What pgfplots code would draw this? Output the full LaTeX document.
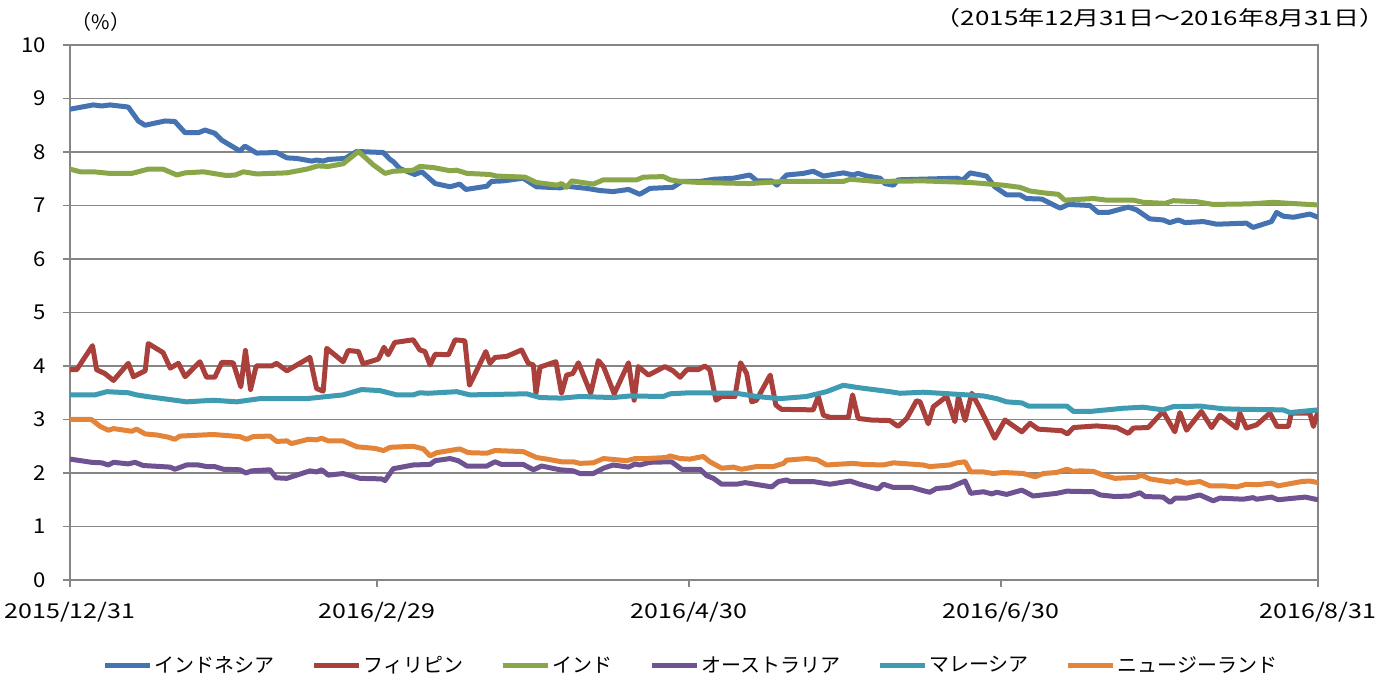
\documentclass[border=0pt]{standalone}
\usepackage{fontspec}
\setmainfont{Noto Sans CJK JP}
\usepackage{pgfplots}
\pgfplotsset{compat=1.18}
\definecolor{cIdn}{RGB}{69,114,176}
\definecolor{cPhl}{RGB}{170,64,60}
\definecolor{cInd}{RGB}{137,166,72}
\definecolor{cAus}{RGB}{110,82,145}
\definecolor{cMys}{RGB}{62,155,177}
\definecolor{cNzl}{RGB}{228,132,56}
\definecolor{cGrid}{RGB}{134,134,134}
\begin{document}
\begin{tikzpicture}[font=\fontsize{20}{24}\selectfont]
\begin{axis}[
  scale only axis, width=1248pt, height=535pt,
  xmin=0, xmax=244, ymin=0, ymax=10,
  ytick={0,1,2,3,4,5,6,7,8,9,10},
  xtick={0,60,121,182,244},
  xticklabels={2015/12/31,2016/2/29,2016/4/30,2016/6/30,2016/8/31},
  /pgf/number format/assume math mode=true,
  ymajorgrids, grid style={cGrid, line width=1.3pt},
  axis line style={cGrid, line width=1.5pt},
  tick style={cGrid, line width=1.5pt},
  tick align=outside, tick pos=left, major tick length=7pt,
  yticklabel style={font=\fontsize{20.5}{24}\selectfont, xshift=-13pt, xscale=1.08},
  xticklabel style={font=\fontsize{20.5}{24}\selectfont, yshift=-12pt, xscale=1.22},
  every axis plot/.append style={line width=5pt, line join=round, no markers},
  legend style={at={(0.4976,-0.159)}, anchor=center, draw=none, fill=none,
    legend columns=6, font=\fontsize{20}{24}\selectfont,
    /tikz/every even column/.append style={column sep=35pt}},
  legend cell align=left,
  legend image code/.code={\draw[#1] (0pt,0pt) -- (45pt,0pt);},
]
\addplot[cIdn] coordinates {(0,8.80)(4.56,8.88)(6.2,8.86)(7.82,8.88)(11.4,8.84)(13.35,8.58)(14.66,8.50)(18.57,8.58)(20.5,8.57)(22.5,8.36)(25.1,8.36)(26.4,8.41)(28.3,8.35)(29.7,8.22)(33.2,8.02)(34.2,8.11)(36.5,7.98)(40.4,7.99)(42.4,7.89)(44.3,7.88)(47.3,7.83)(48.2,7.85)(49.5,7.83)(50.5,7.86)(53.8,7.88)(56.05,8.01)(61.25,7.99)(62.6,7.86)(63.2,7.82)(64.5,7.69)(67.4,7.58)(68.8,7.63)(71.4,7.41)(74.3,7.35)(76.2,7.40)(77.4,7.30)(81.5,7.36)(82.4,7.45)(84.7,7.46)(88.6,7.51)(91.2,7.35)(95.8,7.33)(97.1,7.36)(101.0,7.32)(103.6,7.28)(106.2,7.26)(109.2,7.30)(111.4,7.21)(113.4,7.32)(117.9,7.34)(119.6,7.45)(123.2,7.45)(125.8,7.49)(129.7,7.51)(132.9,7.57)(134.3,7.46)(137.2,7.46)(138.2,7.38)(140.1,7.57)(143.4,7.60)(145.3,7.64)(147.3,7.55)(151.2,7.61)(153.1,7.57)(154.1,7.60)(155.8,7.55)(158.4,7.51)(159.3,7.41)(161.0,7.38)(161.9,7.48)(173.4,7.51)(174.6,7.48)(176.0,7.61)(179.2,7.55)(180.8,7.35)(183.1,7.20)(185.7,7.20)(187.0,7.13)(190.0,7.12)(193.6,6.95)(195.2,7.02)(199.4,7.00)(201.0,6.87)(203.0,6.87)(206.9,6.97)(208.5,6.92)(211.1,6.75)(213.7,6.73)(215.0,6.68)(216.7,6.73)(218.0,6.68)(221.6,6.70)(224.2,6.65)(230.0,6.67)(231.3,6.59)(234.9,6.70)(235.9,6.87)(237.2,6.80)(239.2,6.78)(242.4,6.84)(244,6.78)};
\addlegendentry{インドネシア}
\addplot[cPhl] coordinates {(0,3.93)(1.3,3.93)(4.4,4.38)(5.2,3.93)(6.8,3.86)(8.5,3.73)(11.4,4.05)(12.4,3.80)(14.7,3.91)(15.3,4.42)(18.2,4.25)(19.6,3.96)(21.2,4.05)(22.5,3.80)(25.4,4.08)(26.7,3.79)(28.3,3.79)(29.7,4.07)(31.9,4.06)(33.4,3.61)(34.3,4.29)(35.3,3.56)(36.4,4.00)(39.4,4.00)(40.4,4.05)(42.4,3.91)(46.9,4.16)(48.2,3.58)(49.5,3.53)(50.2,4.33)(53.4,4.08)(54.4,4.29)(56.4,4.27)(57.3,4.04)(60.3,4.13)(61.4,4.35)(62.2,4.21)(63.5,4.44)(67.1,4.49)(68.4,4.30)(69.4,4.27)(70.4,4.02)(71.4,4.22)(74.0,4.21)(75.3,4.49)(77.2,4.47)(78.1,3.64)(81.3,4.27)(82.1,4.05)(83.1,4.16)(85.4,4.18)(88.3,4.30)(89.6,4.05)(90.6,4.02)(91.1,3.49)(91.9,3.98)(95.0,4.08)(96.1,3.49)(97.1,3.83)(98.3,3.86)(99.4,4.06)(101.8,3.49)(103.3,4.10)(104.3,3.99)(106.4,3.48)(109.2,4.06)(110.3,3.36)(111.1,3.99)(113.1,3.83)(116.3,3.99)(117.9,3.91)(119.3,3.79)(120.6,3.93)(122.8,3.93)(124.1,4.00)(125.1,3.93)(126.3,3.36)(127.4,3.43)(130.0,3.43)(131.1,4.06)(132.3,3.86)(133.3,3.33)(134.2,3.36)(136.9,3.83)(138.0,3.27)(139.1,3.19)(145.3,3.18)(146.3,3.43)(147.3,3.08)(148.6,3.04)(152.2,3.04)(153.0,3.46)(154.1,3.02)(156.7,2.99)(160.3,2.98)(161.9,2.87)(163.6,3.02)(165.5,3.35)(166.2,3.33)(167.8,2.92)(168.8,3.24)(171.4,3.43)(173.0,2.96)(173.7,3.43)(175.0,2.98)(176.3,3.49)(177.9,3.21)(180.8,2.65)(182.8,2.99)(186.1,2.77)(187.7,2.93)(189.3,2.82)(193.9,2.79)(195.0,2.73)(196.2,2.85)(200.7,2.88)(204.6,2.85)(206.9,2.74)(207.9,2.84)(210.8,2.85)(213.7,3.15)(216.0,2.77)(217.0,3.13)(218.3,2.80)(221.2,3.15)(223.2,2.85)(224.8,3.08)(228.1,2.84)(228.7,3.12)(230.0,2.84)(232.0,2.90)(234.6,3.12)(236.0,2.87)(238.2,2.87)(238.8,3.12)(242.4,3.12)(243.1,2.87)(244,3.15)};
\addlegendentry{フィリピン}
\addplot[cInd] coordinates {(0,7.68)(2.0,7.63)(4.6,7.63)(7.8,7.60)(12.1,7.60)(15.3,7.68)(18.2,7.68)(20.9,7.57)(22.5,7.61)(26.1,7.63)(28.0,7.60)(30.6,7.56)(32.3,7.57)(33.9,7.63)(36.5,7.59)(42.4,7.61)(46.3,7.68)(48.5,7.74)(50.5,7.73)(53.4,7.78)(56.4,8.01)(59.3,7.76)(61.6,7.60)(63.2,7.64)(67.1,7.66)(68.4,7.73)(71.0,7.71)(74.3,7.65)(75.6,7.66)(77.6,7.60)(82.1,7.58)(83.4,7.55)(88.95,7.53)(91.2,7.43)(95.2,7.38)(96.1,7.41)(97.1,7.34)(98.1,7.46)(102.3,7.40)(104.3,7.48)(110.8,7.48)(112.1,7.53)(116.0,7.54)(117.3,7.48)(119.3,7.45)(123.2,7.43)(132.9,7.41)(139.5,7.45)(151.2,7.45)(152.5,7.49)(157.7,7.45)(166.8,7.46)(176.0,7.43)(179.9,7.40)(182.5,7.38)(185.7,7.34)(187.7,7.27)(190.9,7.23)(193.2,7.21)(194.5,7.10)(200.1,7.13)(202.7,7.10)(207.9,7.10)(209.8,7.06)(214.1,7.04)(215.7,7.09)(220.3,7.07)(223.5,7.02)(230.7,7.03)(235.3,7.06)(238.5,7.04)(244,7.01)};
\addlegendentry{インド}
\addplot[cAus] coordinates {(0,2.26)(4.2,2.20)(6.2,2.19)(7.5,2.15)(8.5,2.20)(11.4,2.17)(12.7,2.20)(14.3,2.14)(19.6,2.11)(20.5,2.07)(22.8,2.15)(25.1,2.15)(26.7,2.12)(28.3,2.12)(30.0,2.07)(33.2,2.06)(34.4,2.00)(35.5,2.04)(39.1,2.06)(40.3,1.91)(42.4,1.90)(46.9,2.04)(48.2,2.02)(49.2,2.06)(50.5,1.96)(53.4,1.99)(56.7,1.90)(60.9,1.89)(61.6,1.86)(63.2,2.08)(67.1,2.15)(70.4,2.16)(71.4,2.23)(74.3,2.27)(75.9,2.23)(77.6,2.13)(81.5,2.13)(83.1,2.21)(84.4,2.16)(88.6,2.16)(90.6,2.06)(92.2,2.13)(95.8,2.06)(98.4,2.04)(99.7,1.99)(102.3,1.99)(104.3,2.09)(106.2,2.15)(109.2,2.11)(110.5,2.17)(111.4,2.15)(113.4,2.20)(117.6,2.21)(119.6,2.07)(123.2,2.07)(124.5,1.95)(125.8,1.90)(127.4,1.79)(130.3,1.79)(132.0,1.82)(137.2,1.74)(138.5,1.84)(140.1,1.87)(140.8,1.84)(145.3,1.84)(148.6,1.79)(152.5,1.85)(154.4,1.79)(158.0,1.70)(159.0,1.79)(161.0,1.73)(164.6,1.73)(166.8,1.67)(168.1,1.64)(169.4,1.71)(172.0,1.73)(175.0,1.85)(176.1,1.62)(178.6,1.65)(180.2,1.61)(181.2,1.64)(183.1,1.60)(186.1,1.68)(188.3,1.57)(192.9,1.62)(194.9,1.66)(200.1,1.65)(201.4,1.59)(204.3,1.56)(207.2,1.57)(209.2,1.63)(210.2,1.56)(213.7,1.55)(215.1,1.45)(216.1,1.53)(218.3,1.53)(220.9,1.59)(223.5,1.48)(224.8,1.53)(229.4,1.51)(231.3,1.54)(232.0,1.51)(234.9,1.55)(236.2,1.50)(241.5,1.55)(244,1.50)};
\addlegendentry{オーストラリア}
\addplot[cMys] coordinates {(0,3.46)(4.9,3.46)(7.2,3.52)(11.4,3.50)(13.0,3.46)(15.0,3.43)(18.2,3.39)(22.8,3.33)(28.0,3.36)(32.6,3.33)(37.1,3.39)(46.3,3.39)(53.4,3.46)(57.0,3.56)(60.6,3.54)(63.9,3.46)(67.1,3.46)(68.4,3.50)(70.0,3.49)(75.6,3.52)(78.2,3.46)(89.3,3.48)(91.9,3.41)(96.1,3.40)(99.7,3.43)(106.2,3.41)(109.5,3.44)(116.0,3.43)(117.3,3.48)(121.2,3.50)(130.3,3.49)(134.2,3.43)(138.8,3.39)(144.0,3.43)(147.9,3.52)(151.2,3.64)(153.8,3.60)(160.3,3.52)(162.3,3.49)(166.8,3.51)(172.0,3.48)(178.6,3.44)(181.2,3.39)(183.1,3.33)(186.1,3.31)(187.4,3.25)(194.9,3.25)(196.2,3.15)(199.4,3.15)(205.9,3.21)(209.8,3.23)(213.7,3.18)(215.7,3.24)(220.9,3.25)(225.5,3.20)(229.4,3.19)(237.2,3.18)(238.5,3.13)(244,3.18)};
\addlegendentry{マレーシア}
\addplot[cNzl] coordinates {(0,3.00)(4.2,3.00)(5.9,2.87)(7.5,2.80)(8.5,2.83)(12.1,2.78)(13.0,2.82)(14.7,2.73)(17.0,2.71)(19.2,2.67)(20.5,2.63)(21.5,2.69)(28.0,2.72)(33.2,2.68)(34.5,2.63)(35.8,2.68)(39.1,2.69)(40.4,2.59)(42.4,2.60)(43.3,2.55)(46.6,2.63)(48.2,2.62)(49.2,2.65)(50.5,2.60)(53.4,2.60)(56.1,2.49)(59.6,2.46)(61.3,2.42)(62.6,2.48)(67.1,2.50)(69.1,2.45)(70.4,2.32)(71.7,2.38)(76.2,2.45)(77.9,2.38)(81.5,2.37)(83.1,2.42)(88.6,2.40)(91.2,2.29)(93.2,2.26)(96.1,2.21)(98.4,2.21)(99.7,2.18)(102.3,2.19)(104.3,2.27)(108.8,2.23)(110.5,2.27)(112.7,2.27)(116.7,2.29)(117.3,2.32)(119.3,2.27)(121.2,2.26)(123.8,2.31)(125.1,2.21)(127.4,2.09)(129.7,2.11)(131.3,2.07)(134.2,2.12)(137.5,2.12)(139.5,2.18)(140.1,2.24)(144.0,2.27)(146.0,2.25)(147.9,2.15)(153.1,2.18)(155.1,2.16)(159.0,2.15)(161.0,2.19)(166.8,2.15)(168.1,2.12)(172.0,2.15)(173.4,2.19)(175.0,2.21)(176.1,2.02)(178.6,2.02)(180.5,1.99)(182.5,2.01)(186.4,1.99)(188.7,1.93)(190.3,1.99)(192.9,2.01)(194.9,2.07)(196.2,2.03)(197.5,2.04)(200.1,2.03)(202.0,1.96)(204.3,1.90)(208.5,1.92)(209.5,1.96)(211.1,1.89)(215.1,1.83)(216.4,1.86)(218.3,1.81)(220.9,1.84)(222.9,1.76)(225.5,1.76)(228.1,1.74)(230.0,1.79)(232.0,1.78)(234.9,1.81)(236.2,1.76)(240.8,1.84)(242.4,1.85)(244,1.82)};
\addlegendentry{ニュージーランド}
\end{axis}
\node[anchor=center] at (31pt,558pt) {（\%）};
\node[anchor=east, xscale=1.3] at (1320pt,562pt) {（2015年12月31日～2016年8月31日）};
\pgfresetboundingbox
\path (-70pt,-103pt) rectangle (1323pt,580pt);
\end{tikzpicture}
\end{document}
